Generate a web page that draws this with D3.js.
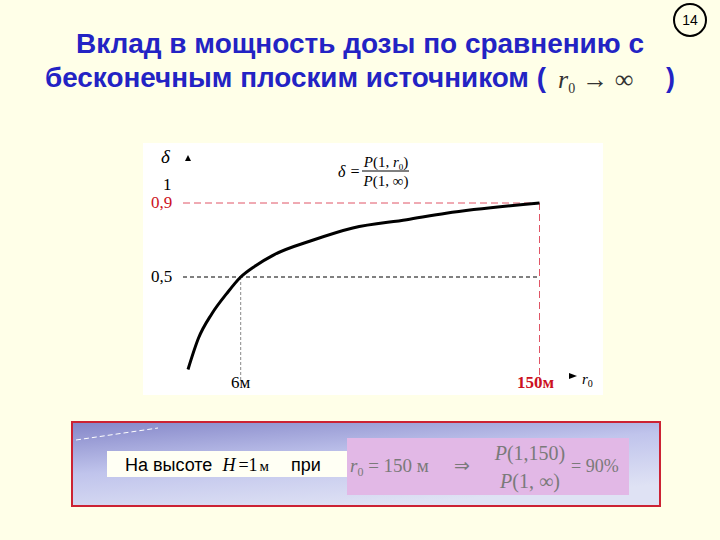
<!DOCTYPE html>
<html><head><meta charset="utf-8">
<script src="https://cdn.jsdelivr.net/npm/d3@7"></script>
<style>body{margin:0;background:#ffffe8;} svg{display:block;}</style>
</head><body>
<script>
// ---- data ----
const rValues = [0, 1.2, 2.7, 4.4, 6, 13, 22, 41, 60, 86, 105, 150];
const deltaValues = [0, 0.17, 0.30, 0.41, 0.5, 0.56, 0.62, 0.70, 0.765, 0.81, 0.845, 0.90];
const yTickValues = [1, 0.9, 0.5];
const yTickLabels = ["1", "0,9", "0,5"];
const xTickValues = [6, 150];
const xTickLabels = ["6м", "150м"];
const titleLine1 = "Вклад в мощность дозы по сравнению с";
const titleLine2 = "бесконечным плоским источником (";

const W = 720, H = 540;
const svg = d3.select("body").append("svg").attr("width", W).attr("height", H);
svg.append("rect").attr("width", W).attr("height", H).attr("fill", "#ffffe8");

// title
const blue = "#2323c4";
const tfont = "'Liberation Sans', Arial, sans-serif";
const serif = "'Liberation Serif', 'Times New Roman', serif";
svg.append("text").attr("x", 360).attr("y", 53).attr("text-anchor", "middle")
  .attr("font-family", tfont).attr("font-weight", "bold").attr("font-size", 27)
  .attr("fill", blue).attr("textLength", 568).attr("lengthAdjust", "spacingAndGlyphs").text(titleLine1);
svg.append("text").attr("x", 45).attr("y", 87)
  .attr("font-family", tfont).attr("font-weight", "bold").attr("font-size", 27)
  .attr("fill", blue).attr("textLength", 501).attr("lengthAdjust", "spacingAndGlyphs").text(titleLine2);
const tm = svg.append("text").attr("x", 558).attr("y", 88)
  .attr("font-family", serif).attr("font-size", 26).attr("fill", "#333");
tm.append("tspan").attr("font-style", "italic").text("r");
tm.append("tspan").attr("font-size", 14).attr("dy", 5).text("0");
tm.append("tspan").attr("dy", -5).attr("dx", 7).text("→ ∞");
svg.append("text").attr("x", 666).attr("y", 87)
  .attr("font-family", tfont).attr("font-weight", "bold").attr("font-size", 27)
  .attr("fill", blue).text(")");

// page number
svg.append("circle").attr("cx", 690).attr("cy", 20).attr("r", 16)
  .attr("fill", "none").attr("stroke", "#000").attr("stroke-width", 2);
svg.append("text").attr("x", 690).attr("y", 25).attr("text-anchor", "middle")
  .attr("font-family", tfont).attr("font-size", 14).text("14");

// chart panel
svg.append("rect").attr("x", 143).attr("y", 143).attr("width", 460).attr("height", 252).attr("fill", "#ffffff");

const x = d3.scaleLinear().domain([0, 6, 150]).range([188, 240.7, 539.5]);
const y = d3.scaleLinear().domain([0, 1]).range([369.5, 184.5]);
const red = "#cc1122";

// guide lines
svg.append("line").attr("x1", 183).attr("x2", x(150)).attr("y1", y(0.9)).attr("y2", y(0.9))
  .attr("stroke", "#e05566").attr("stroke-width", 1).attr("stroke-dasharray", "7,4");
svg.append("line").attr("x1", 183).attr("x2", x(150)).attr("y1", y(0.5)).attr("y2", y(0.5))
  .attr("stroke", "#000").attr("stroke-width", 1).attr("stroke-dasharray", "4,3");
svg.append("line").attr("x1", x(6)).attr("x2", x(6)).attr("y1", y(0.5)).attr("y2", 381)
  .attr("stroke", "#888").attr("stroke-width", 1).attr("stroke-dasharray", "3,2");
svg.append("line").attr("x1", x(150)).attr("x2", x(150)).attr("y1", y(0.9)).attr("y2", 381)
  .attr("stroke", "#e05566").attr("stroke-width", 1).attr("stroke-dasharray", "7,4");

// curve
const pts = rValues.map((r, i) => [r, deltaValues[i]]);
svg.append("path").datum(pts)
  .attr("d", d3.line().x(d => x(d[0])).y(d => y(d[1])).curve(d3.curveMonotoneX))
  .attr("fill", "none").attr("stroke", "#000").attr("stroke-width", 3);

// y tick labels
yTickValues.forEach((v, i) => {
  svg.append("text").attr("x", v === 1 ? 163 : 151).attr("y", y(v) + 5)
    .attr("font-family", serif).attr("font-size", 17)
    .attr("fill", v === 0.9 ? red : "#000").text(yTickLabels[i]);
});
// y axis label
svg.append("text").attr("x", 161).attr("y", 163).attr("font-family", serif)
  .attr("font-style", "italic").attr("font-size", 19).text("δ");
svg.append("path").attr("d", "M185,161 L188,155 L191,161 Z").attr("fill", "#000");

// x tick labels
xTickValues.forEach((v, i) => {
  svg.append("text").attr("x", x(v) + (v === 150 ? -4 : 0)).attr("y", 388).attr("text-anchor", "middle")
    .attr("font-family", serif).attr("font-size", 17)
    .attr("font-weight", v === 150 ? "bold" : "normal")
    .attr("fill", v === 150 ? red : "#000").text(xTickLabels[i]);
});
svg.append("path").attr("d", "M569,373 L577,376 L569,379 Z").attr("fill", "#000");
const xr = svg.append("text").attr("x", 582).attr("y", 384).attr("font-family", serif).attr("font-size", 15);
xr.append("tspan").attr("font-style", "italic").text("r");
xr.append("tspan").attr("font-size", 10).attr("dy", 3).text("0");

// formula
svg.append("text").attr("x", 338).attr("y", 177).attr("font-family", serif).attr("font-style", "italic")
  .attr("font-size", 16).text("δ =");
svg.append("line").attr("x1", 362).attr("x2", 409).attr("y1", 171).attr("y2", 171).attr("stroke", "#000");
const fn = svg.append("text").attr("x", 386).attr("y", 167).attr("text-anchor", "middle")
  .attr("font-family", serif).attr("font-size", 15);
fn.append("tspan").attr("font-style", "italic").text("P");
fn.append("tspan").text("(1, ");
fn.append("tspan").attr("font-style", "italic").text("r");
fn.append("tspan").attr("font-size", 9).attr("dy", 3).text("0");
fn.append("tspan").attr("dy", -3).text(")");
const fd = svg.append("text").attr("x", 386).attr("y", 186).attr("text-anchor", "middle")
  .attr("font-family", serif).attr("font-size", 15);
fd.append("tspan").attr("font-style", "italic").text("P");
fd.append("tspan").text("(1, ∞)");

// bottom box
const defs = svg.append("defs");
const g = defs.append("linearGradient").attr("id", "bg").attr("x1", "0").attr("y1", "0").attr("x2", "0.5").attr("y2", "1");
g.append("stop").attr("offset", "0").attr("stop-color", "#8486c8");
g.append("stop").attr("offset", "0.5").attr("stop-color", "#c0c4ec");
g.append("stop").attr("offset", "1").attr("stop-color", "#dfe2f4");
svg.append("rect").attr("x", 72).attr("y", 422).attr("width", 588).attr("height", 84)
  .attr("fill", "url(#bg)").attr("stroke", "#cc2233").attr("stroke-width", 2);
svg.append("line").attr("x1", 76).attr("y1", 440).attr("x2", 158).attr("y2", 428)
  .attr("stroke", "#fff").attr("stroke-width", 1).attr("stroke-dasharray", "5,3");
svg.append("rect").attr("x", 107).attr("y", 451).attr("width", 240).attr("height", 26).attr("fill", "#fffff4");
svg.append("rect").attr("x", 347).attr("y", 438).attr("width", 282).attr("height", 57).attr("fill", "#e2b8e6");

const bt = svg.append("text").attr("x", 125).attr("y", 471).attr("font-family", tfont).attr("font-size", 18);
bt.append("tspan").text("На высоте");
bt.append("tspan").attr("font-family", serif).attr("font-style", "italic").attr("font-size", 18).attr("dx", 10).text("H");
bt.append("tspan").attr("font-family", serif).attr("font-size", 18).attr("dx", 3).text("=1");
bt.append("tspan").attr("font-family", serif).attr("font-size", 15).attr("dx", 2).text("м");
bt.append("tspan").attr("dx", 22).text("при");

const gray = "#7a7a7a";
const pt = svg.append("text").attr("x", 350).attr("y", 472).attr("font-family", serif).attr("font-size", 19).attr("fill", gray);
pt.append("tspan").attr("font-style", "italic").text("r");
pt.append("tspan").attr("font-size", 12).attr("dy", 4).text("0");
pt.append("tspan").attr("dy", -4).text(" = 150 м");
svg.append("text").attr("x", 454).attr("y", 472).attr("font-family", serif).attr("font-size", 19).attr("fill", gray).text("⇒");
const p1 = svg.append("text").attr("x", 530).attr("y", 460).attr("text-anchor", "middle").attr("font-family", serif).attr("font-size", 20).attr("fill", gray);
p1.append("tspan").attr("font-style", "italic").text("P");
p1.append("tspan").text("(1,150)");
const p2 = svg.append("text").attr("x", 530).attr("y", 488).attr("text-anchor", "middle").attr("font-family", serif).attr("font-size", 20).attr("fill", gray);
p2.append("tspan").attr("font-style", "italic").text("P");
p2.append("tspan").text("(1, ∞)");
svg.append("text").attr("x", 571).attr("y", 472).attr("font-family", serif).attr("font-size", 18).attr("fill", gray).text("= 90%");
</script>
</body></html>
